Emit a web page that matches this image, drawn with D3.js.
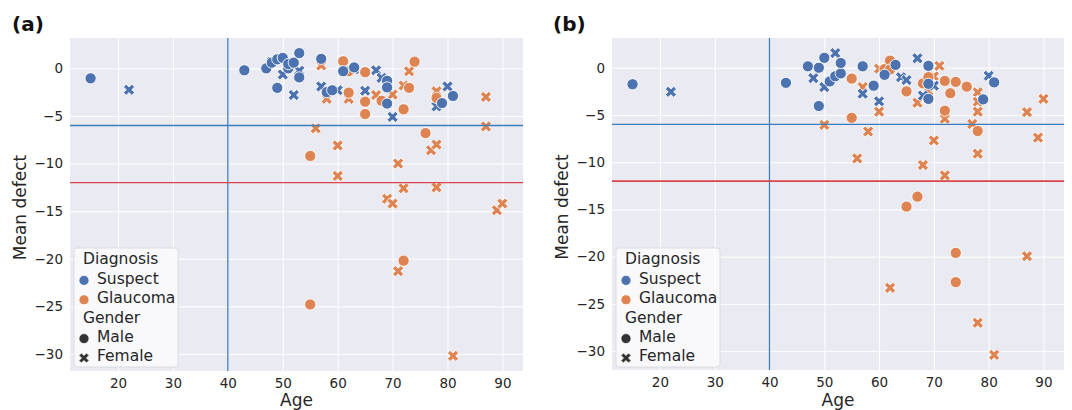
<!DOCTYPE html>
<html>
<head>
<meta charset="utf-8">
<script src="https://cdn.jsdelivr.net/npm/d3@7.9.0/dist/d3.min.js"></script>
<style>
  body { margin: 0; background: #fff; }
  svg { display: block; font-family: "DejaVu Sans", sans-serif; }
</style>
</head>
<body>
<svg id="chart" width="1072" height="410"></svg>
<script>
// ---- data: [age, mean defect] ----
// panel (a)
const aSuspectMale = [[15,-1.05],[43,-0.2],[47,0],[48,0.6],[49,0.95],[50,1.1],[51,0],[51,0.45],[52,0.6],
  [53,1.6],[53,-0.95],[49,-2.05],[57,1.0],[58,-2.5],[59,-2.3],[61,-0.3],[63,0.1],[69,-1.3],[69,-2.0],
  [69,-3.7],[79,-3.65],[81,-2.9]];
const aSuspectFemale = [[22,-2.25],[48,0.7],[50,-0.65],[52,-2.8],[53,-0.25],[57,-1.9],[60,-2.3],[63,-0.1],
  [65,-2.35],[67,-0.2],[68,-1.0],[70,-5.1],[80,-1.9],[78,-4.0]];
const aGlaucomaMale = [[61,0.75],[62,-0.3],[62,-2.55],[65,-0.4],[65,-3.5],[65,-4.8],[68,-3.4],[72,-4.3],
  [73,-2.05],[74,0.7],[76,-6.8],[78,-3.1],[55,-9.2],[55,-24.8],[72,-20.2]];
const aGlaucomaFemale = [[57,0.3],[58,-3.2],[56,-6.3],[60,-8.1],[60,-11.3],[62,-3.2],[67,-2.8],[70,-2.75],
  [72,-1.8],[73,-0.3],[78,-2.4],[71,-10.0],[72,-12.6],[69,-13.7],[70,-14.2],[77,-8.6],[78,-8.0],
  [78,-12.5],[87,-3.0],[87,-6.1],[89,-14.9],[90,-14.2],[71,-21.3],[81,-30.2]];

// panel (b)
const bSuspectMale = [[15,-1.75],[43,-1.6],[47,0.15],[49,0],[49,-4.05],[50,1.05],[51,-1.45],[52,-0.9],
  [53,-0.6],[53,0.5],[57,0.15],[59,-1.9],[61,-0.75],[63,0.3],[69,0.2],[69,-1.7],[69,-3.3],[79,-3.35],
  [81,-1.55]];
const bSuspectFemale = [[22,-2.55],[48,-1.1],[50,-2.05],[52,1.55],[57,-2.75],[60,-3.55],[64,-1.0],
  [65,-1.3],[67,1.0],[68,-2.95],[70,-1.9],[80,-0.85],[69,-1.5]];
const bGlaucomaMale = [[55,-1.15],[55,-5.3],[61,-0.15],[62,0.75],[62,-0.2],[65,-2.5],[65,-14.7],
  [67,-13.65],[68,-1.65],[69,-1.0],[72,-1.4],[72,-4.55],[73,-2.7],[74,-1.5],[76,-2.0],[78,-6.7],
  [74,-19.6],[74,-22.7]];
const bGlaucomaFemale = [[50,-6.05],[56,-9.6],[57,-2.05],[58,-6.75],[60,-0.1],[60,-4.65],[62,-23.3],
  [67,-3.7],[68,-10.3],[69,-2.5],[70,-0.9],[70,-7.7],[71,0.2],[72,-5.4],[72,-11.4],[77,-5.95],
  [78,-2.6],[78,-3.6],[78,-4.65],[78,-9.1],[78,-27.0],[81,-30.4],[87,-4.7],[87,-19.95],[89,-7.4],
  [90,-3.3]];

const xTicks = [20, 30, 40, 50, 60, 70, 80, 90];
const yTicks = [0, -5, -10, -15, -20, -25, -30];
const diagnoses = ['Suspect', 'Glaucoma'];
const genders = ['Male', 'Female'];
const ageCut = 40;
const mdCuts = [-6, -12];

const colors = { Suspect: '#4c72b0', Glaucoma: '#dd8452' };
const textColor = '#262626';
const svg = d3.select('#chart');

// matplotlib style filled "X" marker
function xMarker(h) {
  const pts = [[0.25,0],[0.5,0.25],[0.75,0],[1,0.25],[0.75,0.5],[1,0.75],[0.75,1],[0.5,0.75],
    [0.25,1],[0,0.75],[0.25,0.5],[0,0.25]];
  return 'M' + pts.map(p => [(p[0] - 0.5) * 2 * h, (p[1] - 0.5) * 2 * h].join(',')).join('L') + 'Z';
}
const circlePath = d3.symbol(d3.symbolCircle, Math.PI * 5.6 * 5.6)();
const crossPath = xMarker(5.6);

function drawPanel(p) {
  const g = svg.append('g');
  const all = p.layers.flatMap(l => l.pts);
  const xr = d3.extent(all, d => d[0]), yr = d3.extent(all, d => d[1]);
  const xm = (xr[1] - xr[0]) * 0.05, ym = (yr[1] - yr[0]) * 0.05;
  const x = d3.scaleLinear().domain([xr[0] - xm, xr[1] + xm]).range([p.left, p.right]);
  const y = d3.scaleLinear().domain([yr[0] - ym, yr[1] + ym]).range([p.bottom, p.top]);

  g.append('rect')
    .attr('x', p.left).attr('y', p.top)
    .attr('width', p.right - p.left).attr('height', p.bottom - p.top)
    .attr('fill', '#eaeaf2');

  // axes with white grid lines
  const xAxis = g.append('g').attr('transform', `translate(0,${p.bottom})`)
    .call(d3.axisBottom(x).tickValues(xTicks).tickSize(-(p.bottom - p.top)).tickPadding(7));
  const yAxis = g.append('g').attr('transform', `translate(${p.left},0)`)
    .call(d3.axisLeft(y).tickValues(yTicks).tickSize(-(p.right - p.left)).tickPadding(7));
  [xAxis, yAxis].forEach(a => {
    a.select('.domain').remove();
    a.selectAll('line').attr('stroke', '#fff').attr('stroke-width', 1);
    a.selectAll('text').attr('fill', textColor).style('font-size', '13.5px')
      .style('font-family', '"DejaVu Sans", sans-serif');
  });

  // points
  p.layers.forEach(l => {
    g.append('g').selectAll('path').data(l.pts).join('path')
      .attr('transform', d => `translate(${x(d[0])},${y(d[1])})`)
      .attr('d', l.gender === 'Male' ? circlePath : crossPath)
      .attr('fill', colors[l.diag])
      .attr('stroke', '#fff').attr('stroke-width', 0.9);
  });

  // reference lines
  g.append('line')
    .attr('x1', x(ageCut)).attr('x2', x(ageCut)).attr('y1', p.top).attr('y2', p.bottom)
    .attr('stroke', '#3a7dbf').attr('stroke-width', 1.3);
  g.append('line')
    .attr('x1', p.left).attr('x2', p.right).attr('y1', y(mdCuts[0])).attr('y2', y(mdCuts[0]))
    .attr('stroke', '#3a7dbf').attr('stroke-width', 1.3);
  g.append('line')
    .attr('x1', p.left).attr('x2', p.right).attr('y1', y(mdCuts[1])).attr('y2', y(mdCuts[1]))
    .attr('stroke', '#d9454a').attr('stroke-width', p.redWidth);

  // axis labels
  g.append('text')
    .attr('x', (p.left + p.right) / 2).attr('y', 406)
    .attr('text-anchor', 'middle').attr('fill', textColor).style('font-size', '17px')
    .text('Age');
  g.append('text')
    .attr('transform', `translate(${p.left - 44},${(p.top + p.bottom) / 2 + 3}) rotate(-90)`)
    .attr('text-anchor', 'middle').attr('fill', textColor).style('font-size', '17px')
    .text('Mean defect');

  // panel label
  g.append('text')
    .attr('x', p.labelX).attr('y', 31)
    .attr('fill', '#111').style('font-size', '20px').style('font-weight', 'bold')
    .text(p.label);

  // legend
  const lg = g.append('g').attr('transform', `translate(${p.left + 4},248)`);
  lg.append('rect')
    .attr('width', 104).attr('height', 119).attr('rx', 3)
    .attr('fill', '#fbfbfd').attr('fill-opacity', 0.9)
    .attr('stroke', '#d6d6dc').attr('stroke-width', 0.8);
  const rows = [
    { t: 'Diagnosis' },
    { t: diagnoses[0], m: circlePath, c: colors.Suspect },
    { t: diagnoses[1], m: circlePath, c: colors.Glaucoma },
    { t: 'Gender' },
    { t: genders[0], m: circlePath, c: '#333' },
    { t: genders[1], m: crossPath, c: '#333' }
  ];
  rows.forEach((r, i) => {
    const cy = 11 + i * 19.4;
    if (r.m) {
      lg.append('path')
        .attr('transform', `translate(10,${cy + 2}) scale(0.9)`)
        .attr('d', r.m).attr('fill', r.c).attr('stroke', '#fff').attr('stroke-width', 0.9);
    }
    lg.append('text')
      .attr('x', r.m ? 23 : 9).attr('y', cy).attr('dy', '0.35em')
      .attr('fill', textColor).style('font-size', '15.5px')
      .text(r.t);
  });
}

drawPanel({
  left: 70, right: 523, top: 38, bottom: 371, label: '(a)', labelX: 12, redWidth: 1.2,
  layers: [
    { diag: 'Glaucoma', gender: 'Female', pts: aGlaucomaFemale },
    { diag: 'Suspect', gender: 'Female', pts: aSuspectFemale },
    { diag: 'Glaucoma', gender: 'Male', pts: aGlaucomaMale },
    { diag: 'Suspect', gender: 'Male', pts: aSuspectMale }
  ]
});
drawPanel({
  left: 612, right: 1064, top: 38, bottom: 370, label: '(b)', labelX: 553, redWidth: 1.8,
  layers: [
    { diag: 'Glaucoma', gender: 'Female', pts: bGlaucomaFemale },
    { diag: 'Suspect', gender: 'Female', pts: bSuspectFemale },
    { diag: 'Glaucoma', gender: 'Male', pts: bGlaucomaMale },
    { diag: 'Suspect', gender: 'Male', pts: bSuspectMale }
  ]
});
</script>
</body>
</html>
